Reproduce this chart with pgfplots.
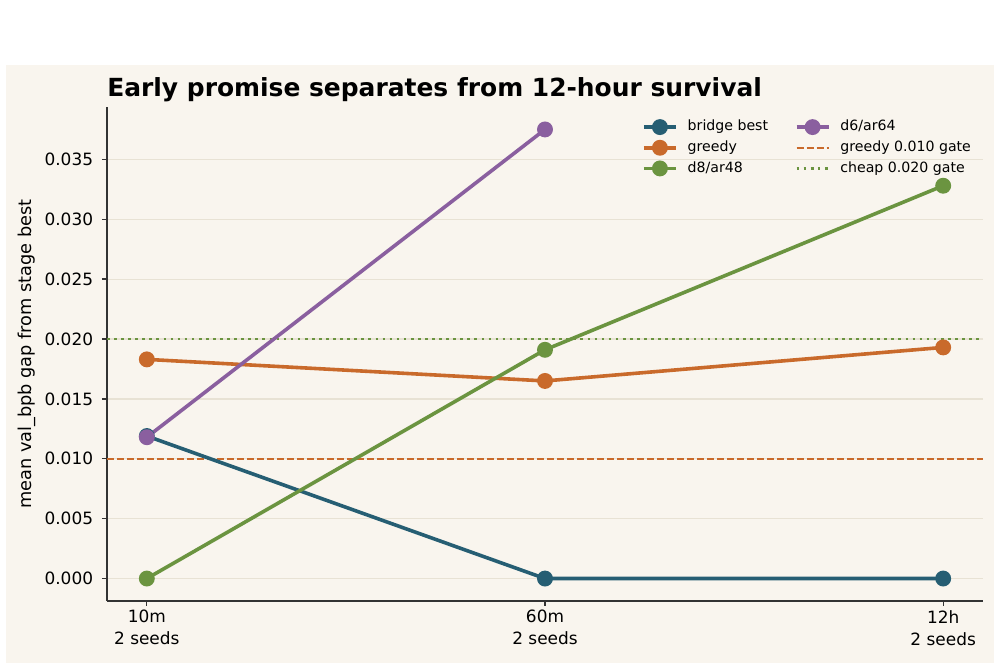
\documentclass[border=0pt]{standalone}
\usepackage{fontspec}
\setmainfont{DejaVu Sans}
\usepackage{pgfplots}
\pgfplotsset{compat=1.18}

\definecolor{panel}{HTML}{F9F5EE}
\definecolor{gridc}{HTML}{E8E2D4}
\definecolor{bridge}{HTML}{265E73}
\definecolor{greedy}{HTML}{C96A2B}
\definecolor{deight}{HTML}{6B9440}
\definecolor{dsix}{HTML}{8A5F9F}
\definecolor{spine}{HTML}{333333}

\pgfplotsset{
  series/.style={line width=2.7pt, mark=*, mark size=4.6pt, mark options={solid}},
  greedygate/.style={greedy, line width=1.5pt, dash pattern=on 5.2pt off 2.3pt},
  cheapgate/.style={deight, line width=2pt, dash pattern=on 2pt off 3.3pt},
}

\begin{document}
\begin{tikzpicture}
\path[fill=white] (0,0) rectangle (750pt,502.5pt);
\path[fill=panel] (4.5pt,5.25pt) rectangle (745.5pt,453.75pt);
\node[anchor=base west, inner sep=0pt, font=\fontsize{18.7}{22}\selectfont\bfseries]
  at (80.25pt,429.75pt) {Early promise separates from 12-hour survival};
\begin{axis}[
  at={(80.25pt,51.75pt)}, anchor=south west,
  scale only axis, width=657pt, height=370.5pt,
  xmin=-0.1, xmax=2.1, ymin=-0.001875, ymax=0.039375,
  clip=false,
  axis x line*=bottom, axis y line*=left,
  axis line style={spine, line width=1pt, -},
  tick align=outside, major tick length=3.75pt,
  tick style={spine, line width=1pt},
  xtick={0,1,2},
  xticklabels={{10m\\2 seeds},{60m\\2 seeds},{12h\\2 seeds}},
  xticklabel style={align=center, anchor=north, inner sep=0pt, yshift=-3pt,
    font=\fontsize{12.7}{16.5}\selectfont},
  ytick={0,0.005,0.01,0.015,0.02,0.025,0.03,0.035},
  scaled y ticks=false,
  yticklabel style={anchor=east, inner sep=0pt, xshift=-6.5pt,
    font=\fontsize{12.7}{15}\selectfont,
    /pgf/number format/fixed, /pgf/number format/precision=3,
    /pgf/number format/fixed zerofill,
    /pgf/number format/assume math mode=true},
  ymajorgrids, grid style={gridc, line width=0.9pt},
  ylabel={mean val\_bpb gap from stage best},
  every axis y label/.style={at={(axis description cs:-0.0913,0.5)}, rotate=90,
    anchor=center, font=\fontsize{13.3}{15}\selectfont},
  legend columns=2,
  legend style={at={(rel axis cs:0.606,0.979)}, anchor=north west, draw=none, fill=none,
    font=\fontsize{10.6}{12}\selectfont,
    nodes={inner sep=0pt, text height=8pt, text depth=2.2pt},
    row sep=5.3pt,
    /tikz/every odd column/.append style={column sep=7.5pt},
    /tikz/every even column/.append style={column sep=20pt}},
  legend cell align=left,
  legend image code/.code={\draw[mark repeat=2, mark phase=2, #1] plot coordinates {(0pt,0pt) (12pt,0pt) (24pt,0pt)};},
]
% decision gates
\addplot[greedygate, forget plot] coordinates {(-0.1,0.010) (2.1,0.010)};
\addplot[cheapgate, forget plot] coordinates {(-0.1,0.020) (2.1,0.020)};
% stage gaps per configuration
\addplot[series, bridge, forget plot] coordinates {(0,0.0119) (1,0.0) (2,0.0)};
\addplot[series, greedy, forget plot] coordinates {(0,0.0183) (1,0.0165) (2,0.0193)};
\addplot[series, deight, forget plot] coordinates {(0,0.0) (1,0.0191) (2,0.0328)};
\addplot[series, dsix, forget plot] coordinates {(0,0.0118) (1,0.0375)};
% legend, filled row by row
\addlegendimage{series, bridge}\addlegendentry{bridge best}
\addlegendimage{series, dsix}\addlegendentry{d6/ar64}
\addlegendimage{series, greedy}\addlegendentry{greedy}
\addlegendimage{greedygate, no marks}\addlegendentry{greedy 0.010 gate}
\addlegendimage{series, deight}\addlegendentry{d8/ar48}
\addlegendimage{cheapgate, no marks}\addlegendentry{cheap 0.020 gate}
\end{axis}
\end{tikzpicture}
\end{document}
